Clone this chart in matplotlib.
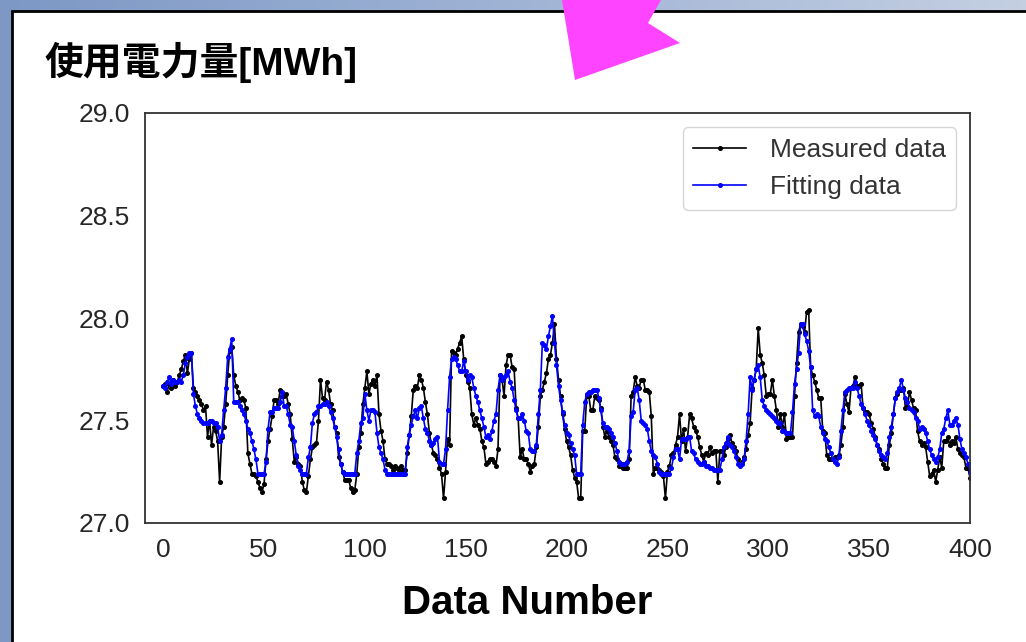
import numpy as np
import matplotlib
matplotlib.use("Agg")
import matplotlib.pyplot as plt
from matplotlib.patches import Polygon, Rectangle
from matplotlib.colors import LinearSegmentedColormap

plt.rcParams['font.family'] = ['Liberation Sans', 'DejaVu Sans']

# power usage [MWh], measured vs model output, one value per data number
measured = [
    27.67, 27.68, 27.64, 27.68, 27.66, 27.70, 27.67, 27.69, 27.72, 27.75,
    27.79, 27.82, 27.73, 27.80, 27.83, 27.66, 27.64, 27.62, 27.60, 27.58,
    27.55, 27.57, 27.42, 27.50, 27.38, 27.47, 27.45, 27.40, 27.20, 27.42,
    27.47, 27.58, 27.72, 27.84, 27.86, 27.72, 27.67, 27.64, 27.60, 27.61,
    27.60, 27.56, 27.34, 27.29, 27.24, 27.24, 27.23, 27.20, 27.17, 27.15,
    27.19, 27.31, 27.40, 27.46, 27.52, 27.60, 27.60, 27.58, 27.65, 27.62,
    27.62, 27.63, 27.58, 27.53, 27.41, 27.30, 27.32, 27.29, 27.28, 27.20,
    27.16, 27.15, 27.23, 27.31, 27.37, 27.38, 27.39, 27.50, 27.70, 27.61,
    27.60, 27.69, 27.65, 27.58, 27.55, 27.47, 27.44, 27.32, 27.29, 27.25,
    27.21, 27.21, 27.21, 27.17, 27.15, 27.16, 27.24, 27.37, 27.44, 27.58,
    27.66, 27.74, 27.63, 27.68, 27.70, 27.67, 27.72, 27.53, 27.45, 27.40,
    27.31, 27.29, 27.29, 27.28, 27.26, 27.28, 27.27, 27.26, 27.28, 27.26,
    27.26, 27.34, 27.43, 27.52, 27.65, 27.67, 27.66, 27.72, 27.70, 27.66,
    27.59, 27.53, 27.44, 27.38, 27.34, 27.33, 27.31, 27.27, 27.24, 27.12,
    27.25, 27.41, 27.38, 27.84, 27.83, 27.82, 27.85, 27.88, 27.91, 27.80,
    27.72, 27.69, 27.66, 27.53, 27.48, 27.51, 27.48, 27.46, 27.40, 27.37,
    27.29, 27.30, 27.31, 27.31, 27.30, 27.28, 27.36, 27.72, 27.70, 27.62,
    27.77, 27.82, 27.82, 27.76, 27.75, 27.56, 27.51, 27.32, 27.36, 27.31,
    27.31, 27.29, 27.25, 27.28, 27.29, 27.37, 27.47, 27.62, 27.65, 27.69,
    27.73, 27.80, 27.82, 27.88, 27.97, 27.80, 27.70, 27.62, 27.53, 27.46,
    27.40, 27.37, 27.33, 27.26, 27.22, 27.20, 27.12, 27.12, 27.45, 27.45,
    27.62, 27.62, 27.55, 27.55, 27.62, 27.61, 27.60, 27.56, 27.47, 27.42,
    27.45, 27.42, 27.40, 27.38, 27.32, 27.31, 27.28, 27.28, 27.27, 27.27,
    27.27, 27.31, 27.62, 27.64, 27.71, 27.67, 27.66, 27.70, 27.70, 27.65,
    27.65, 27.64, 27.52, 27.24, 27.27, 27.27, 27.26, 27.25, 27.23, 27.12,
    27.25, 27.28, 27.33, 27.34, 27.38, 27.42, 27.53, 27.40, 27.46, 27.35,
    27.42, 27.53, 27.51, 27.47, 27.45, 27.42, 27.37, 27.33, 27.30, 27.34,
    27.33, 27.37, 27.34, 27.35, 27.35, 27.20, 27.35, 27.35, 27.33, 27.37,
    27.41, 27.43, 27.39, 27.37, 27.35, 27.31, 27.29, 27.30, 27.32, 27.36,
    27.43, 27.49, 27.66, 27.70, 27.75, 27.95, 27.82, 27.78, 27.72, 27.62,
    27.63, 27.63, 27.70, 27.62, 27.55, 27.47, 27.53, 27.47, 27.53, 27.41,
    27.42, 27.42, 27.42, 27.62, 27.78, 27.93, 27.97, 27.96, 27.93, 28.03,
    28.04, 27.76, 27.72, 27.69, 27.65, 27.61, 27.61, 27.45, 27.44, 27.33,
    27.31, 27.31, 27.31, 27.32, 27.32, 27.33, 27.38, 27.47, 27.63, 27.58,
    27.54, 27.66, 27.67, 27.71, 27.67, 27.67, 27.68, 27.56, 27.54, 27.54,
    27.53, 27.49, 27.46, 27.42, 27.38, 27.36, 27.31, 27.29, 27.27, 27.27,
    27.38, 27.44, 27.53, 27.61, 27.63, 27.65, 27.65, 27.66, 27.56, 27.57,
    27.64, 27.60, 27.56, 27.55, 27.45, 27.40, 27.38, 27.39, 27.37, 27.30,
    27.23, 27.24, 27.26, 27.20, 27.26, 27.32, 27.27, 27.40, 27.40, 27.42,
    27.38, 27.40, 27.39, 27.42, 27.36, 27.34, 27.33, 27.32, 27.27, 27.27,
    27.22,
]

fitting = [
    27.67, 27.66, 27.69, 27.71, 27.68, 27.70, 27.69, 27.69, 27.70, 27.69,
    27.72, 27.78, 27.81, 27.83, 27.83, 27.63, 27.57, 27.53, 27.51, 27.50,
    27.49, 27.49, 27.49, 27.50, 27.50, 27.49, 27.49, 27.47, 27.40, 27.43,
    27.55, 27.66, 27.81, 27.85, 27.90, 27.59, 27.59, 27.59, 27.57, 27.55,
    27.53, 27.50, 27.46, 27.44, 27.40, 27.36, 27.31, 27.24, 27.24, 27.24,
    27.24, 27.30, 27.46, 27.54, 27.54, 27.56, 27.56, 27.56, 27.59, 27.64,
    27.57, 27.57, 27.53, 27.48, 27.47, 27.40, 27.33, 27.28, 27.26, 27.24,
    27.24, 27.24, 27.32, 27.37, 27.49, 27.53, 27.54, 27.57, 27.57, 27.58,
    27.58, 27.59, 27.57, 27.54, 27.51, 27.47, 27.42, 27.36, 27.29, 27.25,
    27.24, 27.24, 27.24, 27.24, 27.24, 27.24, 27.34, 27.40, 27.49, 27.51,
    27.63, 27.55, 27.50, 27.55, 27.55, 27.54, 27.44, 27.37, 27.34, 27.31,
    27.26, 27.24, 27.24, 27.24, 27.24, 27.24, 27.24, 27.24, 27.24, 27.24,
    27.24, 27.37, 27.43, 27.48, 27.52, 27.55, 27.51, 27.56, 27.57, 27.51,
    27.46, 27.44, 27.40, 27.38, 27.39, 27.41, 27.42, 27.30, 27.29, 27.29,
    27.36, 27.55, 27.71, 27.80, 27.81, 27.80, 27.77, 27.74, 27.74, 27.79,
    27.74, 27.70, 27.72, 27.71, 27.66, 27.62, 27.59, 27.55, 27.51, 27.47,
    27.42, 27.43, 27.41, 27.45, 27.50, 27.53, 27.65, 27.72, 27.70, 27.71,
    27.72, 27.74, 27.69, 27.66, 27.60, 27.55, 27.51, 27.51, 27.53, 27.50,
    27.45, 27.44, 27.36, 27.35, 27.35, 27.38, 27.53, 27.65, 27.88, 27.87,
    27.85, 27.91, 27.96, 28.01, 27.88, 27.77, 27.67, 27.60, 27.54, 27.48,
    27.44, 27.43, 27.39, 27.36, 27.33, 27.24, 27.24, 27.24, 27.48, 27.59,
    27.63, 27.64, 27.64, 27.65, 27.65, 27.65, 27.61, 27.55, 27.49, 27.47,
    27.47, 27.46, 27.44, 27.42, 27.39, 27.35, 27.30, 27.29, 27.29, 27.29,
    27.30, 27.35, 27.52, 27.54, 27.65, 27.66, 27.60, 27.50, 27.49, 27.48,
    27.46, 27.40, 27.35, 27.33, 27.32, 27.29, 27.25, 27.24, 27.24, 27.24,
    27.24, 27.24, 27.27, 27.32, 27.36, 27.36, 27.31, 27.41, 27.41, 27.41,
    27.42, 27.42, 27.35, 27.34, 27.31, 27.30, 27.29, 27.29, 27.30, 27.28,
    27.28, 27.27, 27.27, 27.26, 27.26, 27.26, 27.26, 27.31, 27.37, 27.39,
    27.42, 27.38, 27.37, 27.35, 27.32, 27.29, 27.28, 27.29, 27.31, 27.40,
    27.53, 27.71, 27.65, 27.70, 27.75, 27.77, 27.71, 27.60, 27.57, 27.55,
    27.54, 27.53, 27.52, 27.51, 27.50, 27.49, 27.49, 27.45, 27.45, 27.44,
    27.44, 27.44, 27.54, 27.68, 27.75, 27.83, 27.97, 27.97, 27.92, 27.89,
    27.84, 27.76, 27.55, 27.52, 27.53, 27.52, 27.47, 27.44, 27.41, 27.40,
    27.37, 27.34, 27.31, 27.30, 27.29, 27.32, 27.45, 27.55, 27.64, 27.65,
    27.66, 27.66, 27.66, 27.69, 27.66, 27.62, 27.58, 27.56, 27.53, 27.50,
    27.48, 27.45, 27.43, 27.41, 27.38, 27.35, 27.33, 27.32, 27.31, 27.34,
    27.42, 27.47, 27.53, 27.61, 27.64, 27.66, 27.70, 27.65, 27.61, 27.59,
    27.56, 27.55, 27.54, 27.51, 27.50, 27.46, 27.47, 27.46, 27.44, 27.40,
    27.36, 27.33, 27.31, 27.30, 27.32, 27.36, 27.44, 27.46, 27.51, 27.55,
    27.48, 27.48, 27.50, 27.51, 27.48, 27.41, 27.36, 27.34, 27.32, 27.29,
    27.25,
]

data_number = np.arange(len(measured))
x_ticks = [0, 50, 100, 150, 200, 250, 300, 350, 400]
y_ticks = [27.0, 27.5, 28.0, 28.5, 29.0]

W, H = 1026, 642
fig = plt.figure(figsize=(W / 100, H / 100), dpi=100)

# slide backdrop: blue gradient frame, white panel, pink pointer
bg = fig.add_axes([0, 0, 1, 1], zorder=-5)
bg.set_xlim(0, W)
bg.set_ylim(H, 0)
bg.axis('off')
band = LinearSegmentedColormap.from_list('band', ['#7d98c5', '#9fb3d5', '#c4cfe2'])
bg.imshow(np.linspace(0, 1, 256)[None, :], extent=[0, W, H, 0], cmap=band, aspect='auto')
bg.add_patch(Rectangle((12, 11), W, H, facecolor='white', edgecolor='black', lw=2))
bg.add_patch(Polygon([(562, 0), (575, 80), (680, 43), (648, 23), (661, 0)],
                     closed=True, facecolor='#ff44ff', edgecolor='none'))

# title: latin part in Liberation, kanji fall back to Noto CJK
fig.text(45 / W, 1 - 62 / H, '使用電力量[MWh]', fontsize=28, fontweight='bold',
         family=['Liberation Sans', 'Noto Sans CJK JP'], va='center', ha='left',
         color='black')

ax = fig.add_axes([145 / W, 1 - 523 / H, 825 / W, 410 / H])
ax.plot(data_number, measured, color='black', marker='o', markersize=2.6,
        linewidth=1.2, label='Measured data')
ax.plot(data_number, fitting, color='blue', marker='o', markersize=2.6,
        linewidth=1.2, label='Fitting data')

ax.set_xlim(-9, 400)
ax.set_ylim(27.0, 29.0)
ax.set_xticks(x_ticks)
ax.set_yticks(y_ticks)
ax.set_yticklabels([f'{v:.1f}' for v in y_ticks])
ax.tick_params(length=0, labelsize=19, colors='#262626', pad=11)
for s in ax.spines.values():
    s.set_color('#333333')
    s.set_linewidth(1.3)

leg = ax.legend(loc='upper right', fontsize=19, frameon=True, fancybox=True,
                borderpad=0.4, handlelength=2.0, handletextpad=0.9,
                labelspacing=0.5, bbox_to_anchor=(0.9995, 0.997))
leg.get_frame().set_edgecolor('#cccccc')
leg.get_frame().set_linewidth(1.0)
for t in leg.get_texts():
    t.set_color('#333333')

fig.text(527 / W, 1 - 603 / H, 'Data Number', fontsize=29, fontweight='bold',
         ha='center', va='center', color='black')

fig.savefig('out.png', dpi=100)
